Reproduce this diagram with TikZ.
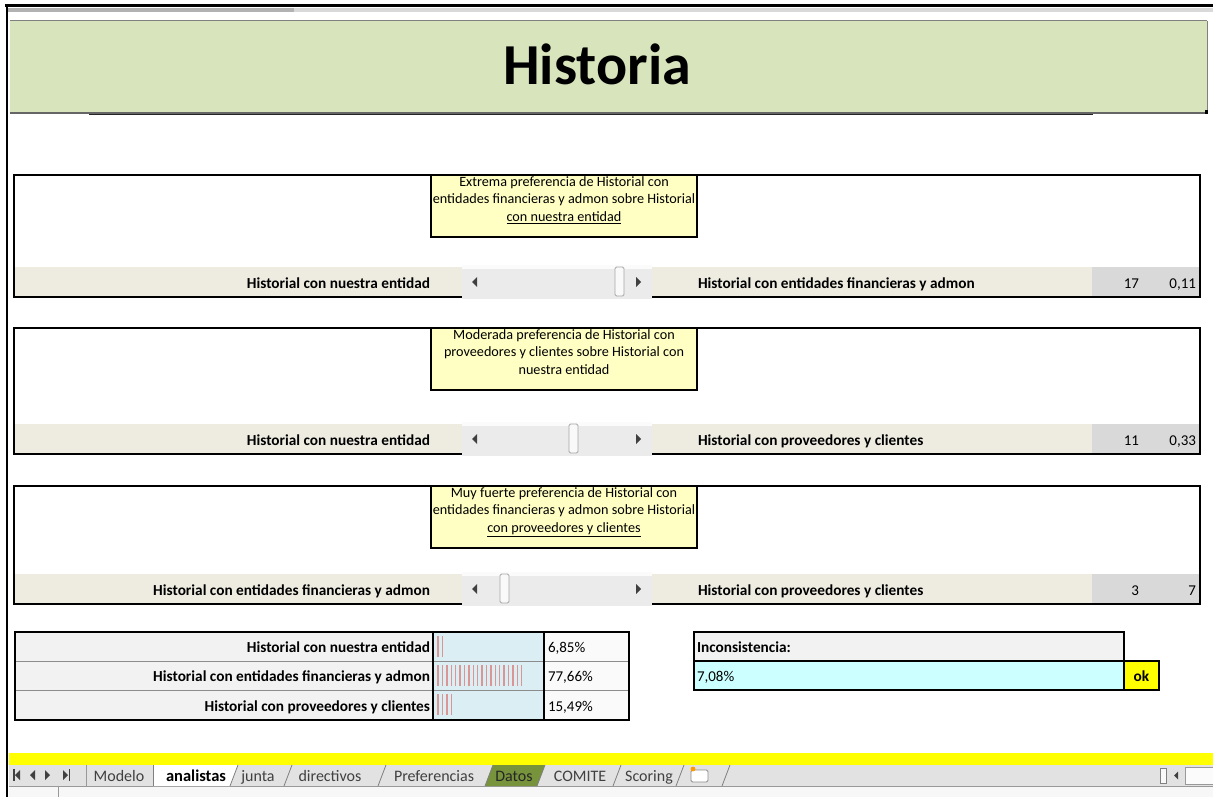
\documentclass[tikz,border=0pt]{standalone}
\usepackage{fontspec}
\setmainfont{Carlito}
\definecolor{headgreen}{HTML}{D8E4BC}
\definecolor{bandtan}{HTML}{EEECE1}
\definecolor{noteyellow}{HTML}{FFFFC4}
\definecolor{valgray}{HTML}{D9D9D9}
\definecolor{scrollgray}{HTML}{EBEBEB}
\definecolor{cellgray}{HTML}{F2F2F2}
\definecolor{barblue}{HTML}{DAEEF3}
\definecolor{barrose}{HTML}{D99694}
\definecolor{inccyan}{HTML}{CCFFFF}
\definecolor{okyellow}{HTML}{FFFF00}
\definecolor{tabgray}{HTML}{E2E2E2}
\definecolor{datosgreen}{HTML}{77933C}
\begin{document}
\begin{tikzpicture}[x=1pt,y=-1pt,
  every node/.style={inner sep=0pt,outer sep=0pt},
  lbl/.style={font=\fontsize{15.3}{18}\selectfont\bfseries},
  notetext/.style={font=\fontsize{14.2}{17.5}\selectfont,align=center},
  plain/.style={font=\fontsize{15}{18}\selectfont},
  tabtext/.style={font=\fontsize{16}{18}\selectfont,text=black!75},
  frame/.style={draw=black,line width=1.8pt},
  thinframe/.style={draw=black,line width=1.5pt},
  arrowglyph/.style={fill=black!75},
  thumb/.style={fill=white!95!gray,draw=black!35,line width=0.8pt,rounded corners=1.5pt}]
\useasboundingbox (0,0) rectangle (1213,797);
\fill[white] (0,0) rectangle (1213,797);

% window frame and toolbar remnant
\fill[black!30] (8,8) rectangle (294,12);
\fill[black!15] (294,8) rectangle (1213,12);
\draw[black,line width=3pt] (5,6) -- (1213,6);
\draw[black,line width=2.5pt] (7,5) -- (7,797);

% title banner
\fill[headgreen] (10,21) rectangle (1207,112);
\draw[black!50,line width=1pt] (10,21) -- (1207,21);
\draw[black!50,line width=0.8pt] (1207,21) -- (1207,113);
\draw[black!60,line width=2pt] (10,113) -- (1207,113);
\draw[black!85,line width=1.5pt] (89,114.5) -- (1093,114.5);
\fill[black] (1205,110) rectangle (1208,114);
\node[font=\fontsize{58}{60}\selectfont\bfseries,anchor=base] (title) at (597,85) {Historia};

% one comparison panel:
% #1 name, #2 top, #3 bottom, #4 thumb x, #5 left label, #6 right label,
% #7 note text, #8 first value, #9 second value
\newcommand{\prefpanel}[9]{%
  \fill[bandtan] (14,#3-30) rectangle (1200,#3);
  \fill[valgray] (1092,#3-30) rectangle (1200,#3);
  \draw[frame] (14,#2) rectangle (1200,#3);
  \fill[noteyellow] (431,#2) rectangle (697,#2+62);
  \draw[thinframe] (431,#2) rectangle (697,#2+62);
  \node[notetext,anchor=north] (#1note) at (564,#2+1.5) {#7};
  \fill[scrollgray] (462,#3-32) rectangle (652,#3+1.5);
  \fill[white!97!gray] (462,#3-32) rectangle (652,#3-28);
  \fill[arrowglyph] (472,#3-15) -- (477,#3-20) -- (477,#3-10) -- cycle;
  \fill[arrowglyph] (641,#3-15) -- (636,#3-20) -- (636,#3-10) -- cycle;
  \draw[thumb] (#4,#3-30) rectangle (#4+9,#3-1);
  \node[lbl,anchor=base east] (#1left) at (430,#3-9) {#5};
  \node[lbl,anchor=base west] (#1right) at (698,#3-9) {#6};
  \node[plain,anchor=base east] (#1va) at (1139,#3-9) {#8};
  \node[plain,anchor=base east] (#1vb) at (1196,#3-9) {#9};
}

\prefpanel{pa}{175}{297}{615}{Historial con nuestra entidad}{Historial con entidades financieras y admon}%
  {Extrema preferencia de Historial con\\entidades financieras y admon sobre Historial\\\underline{con nuestra entidad}}{17}{0,11}
\prefpanel{pb}{328}{454}{569}{Historial con nuestra entidad}{Historial con proveedores y clientes}%
  {Moderada preferencia de Historial con\\proveedores y clientes sobre Historial con\\nuestra entidad}{11}{0,33}
\prefpanel{pc}{486}{604}{500}{Historial con entidades financieras y admon}{Historial con proveedores y clientes}%
  {Muy fuerte preferencia de Historial con\\entidades financieras y admon sobre Historial\\\underline{con proveedores y clientes}}{3}{7}

% weights table
\fill[cellgray] (15,632) rectangle (433,720);
\fill[barblue] (433,632) rectangle (544,720);
\fill[white!96!gray] (544,632) rectangle (629,720);
\draw[black!45,line width=1pt] (15,661) -- (629,661) (15,690) -- (629,690);
\draw[thinframe] (15,632) rectangle (629,720);
\draw[thinframe] (433,632) -- (433,720) (544,632) -- (544,720);
\foreach \i in {0,1} \draw[barrose,line width=1.4pt] (438+\i*4.4,636) -- (438+\i*4.4,657);
\foreach \i in {0,...,19} \draw[barrose,line width=1.4pt] (438+\i*4.4,665) -- (438+\i*4.4,686);
\foreach \i in {0,...,3} \draw[barrose,line width=1.4pt] (438+\i*4.4,694) -- (438+\i*4.4,715);
\node[lbl,anchor=base east] (wa) at (430,652) {Historial con nuestra entidad};
\node[lbl,anchor=base east] (wb) at (430,681) {Historial con entidades financieras y admon};
\node[lbl,anchor=base east] (wc) at (430,711) {Historial con proveedores y clientes};
\node[plain,anchor=base west] (pa) at (548,652) {6,85\%};
\node[plain,anchor=base west] (pb) at (548,681) {77,66\%};
\node[plain,anchor=base west] (pc) at (548,711) {15,49\%};

% consistency check
\fill[cellgray] (694,632) rectangle (1124,661);
\fill[inccyan] (694,661) rectangle (1124,690);
\fill[okyellow] (1124,661) rectangle (1159,690);
\draw[thinframe] (694,632) rectangle (1124,690);
\draw[thinframe] (694,661) -- (1124,661);
\draw[thinframe] (1124,661) rectangle (1159,690);
\node[lbl,anchor=base west] (inc) at (697,652) {Inconsistencia:};
\node[plain,anchor=base west] (incv) at (697,681) {7,08\%};
\node[lbl,anchor=base] (ok) at (1141.5,681) {ok};

% sheet tab bar
\fill[okyellow] (9,753) rectangle (1213,765);
\fill[tabgray] (9,765) rectangle (1213,786);
\fill[white!94!gray] (9,786) rectangle (1213,797);
\draw[black!40,line width=0.6pt] (9,786) -- (1213,786);
\draw[black!40,line width=0.6pt] (58,786) -- (58,797);
% navigation buttons
\fill[arrowglyph] (13,769) rectangle (14.5,781);
\fill[arrowglyph] (15,775) -- (20,770) -- (20,780) -- cycle;
\fill[arrowglyph] (30,775) -- (35,770) -- (35,780) -- cycle;
\fill[arrowglyph] (50,775) -- (45,770) -- (45,780) -- cycle;
\fill[arrowglyph] (68,775) -- (63,770) -- (63,780) -- cycle;
\fill[arrowglyph] (68.5,769) rectangle (70,781);
\draw[black!40,line width=0.8pt] (86,765) -- (86,786);
% active tab
\fill[white] (153,765) -- (153,786) -- (230,786) -- (238,765) -- cycle;
\draw[black!50,line width=0.8pt] (153,765) -- (153,786);
% Datos tab
\fill[datosgreen] (485,786) -- (493,765) -- (545,765) -- (537,786) -- cycle;
% tab separators
\foreach \sx in {230,284,378,485,537,613,676,722}
  \draw[black!50,line width=0.8pt] (\sx,786) -- (\sx+8,765);
\node[tabtext,anchor=base] (tmodelo) at (119,781) {Modelo};
\node[font=\fontsize{16.5}{18}\selectfont\bfseries,anchor=base] (tanal) at (196,781) {analistas};
\node[tabtext,anchor=base] (tjunta) at (258,781) {junta};
\node[tabtext,anchor=base] (tdir) at (330,781) {directivos};
\node[tabtext,anchor=base] (tpref) at (434,781) {Preferencias};
\node[tabtext,anchor=base,text=black!85] (tdatos) at (514,781) {Datos};
\node[tabtext,anchor=base] (tcomite) at (580,781) {COMITE};
\node[tabtext,anchor=base] (tscoring) at (649,781) {Scoring};
% insert-sheet icon
\draw[black!45,line width=0.8pt,fill=white,rounded corners=1.5pt] (691,770) rectangle (708,782);
\fill[orange!80!yellow] (693,769) circle (2.4pt);
% split handle and horizontal scrollbar start
\draw[black!50,line width=0.7pt,fill=white!95!gray] (1160,768) rectangle (1166,783);
\fill[arrowglyph] (1174,775.5) -- (1178,771.5) -- (1178,779.5) -- cycle;
\draw[black!40,line width=0.7pt,fill=white!97!gray] (1185,767) rectangle (1215,784);
\end{tikzpicture}
\end{document}
